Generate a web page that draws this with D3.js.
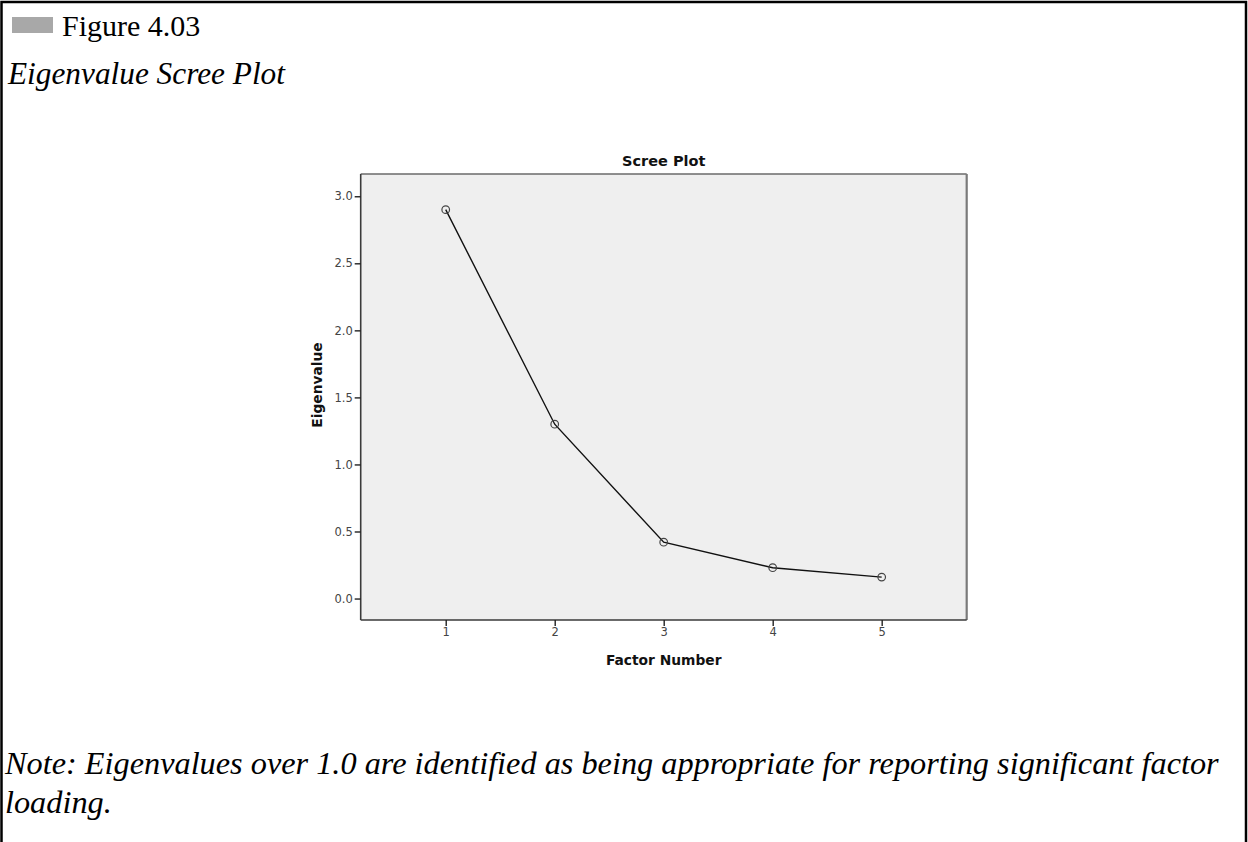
<!DOCTYPE html>
<html>
<head>
<meta charset="utf-8">
<script src="https://cdn.jsdelivr.net/npm/d3@7"></script>
<style>
  html, body { margin: 0; padding: 0; background: #fff; }
  svg { display: block; }
</style>
</head>
<body>
<script>
// ---- data ----
const factors = [1, 2, 3, 4, 5];
const eigenvalues = [2.90, 1.30, 0.42, 0.23, 0.16];
const yTicks = [0.0, 0.5, 1.0, 1.5, 2.0, 2.5, 3.0];
const xTicks = [1, 2, 3, 4, 5];
const figureLabel = "Figure 4.03";
const figureTitle = "Eigenvalue Scree Plot";
const chartTitle = "Scree Plot";
const xLabel = "Factor Number";
const yLabel = "Eigenvalue";
const noteLines = [
  "Note: Eigenvalues over 1.0 are identified as being appropriate for reporting significant factor",
  "loading."
];

const W = 1248, H = 842;
const svg = d3.select("body").append("svg").attr("width", W).attr("height", H);

// outer frame (no bottom edge)
svg.append("path")
  .attr("d", d3.line()([[1.5, H], [1.5, 2], [1246, 2], [1246, H]]))
  .attr("fill", "none").attr("stroke", "#000").attr("stroke-width", 2.5);

const serif = "Liberation Serif, Times New Roman, serif";
// caption header
svg.append("rect").attr("x", 12).attr("y", 17).attr("width", 41).attr("height", 16).attr("fill", "#a8a8a8");
svg.append("text").attr("x", 62).attr("y", 36)
  .attr("font-family", serif).attr("font-size", 30)
  .attr("fill", "#000").text(figureLabel);
svg.append("text").attr("x", 8).attr("y", 84)
  .attr("font-family", serif).attr("font-size", 31.3)
  .attr("font-style", "italic").attr("fill", "#000").text(figureTitle);

noteLines.forEach((t, i) => {
  svg.append("text").attr("x", 5).attr("y", 774 + i * 39)
    .attr("font-family", serif).attr("font-size", 32.3)
    .attr("font-style", "italic").attr("fill", "#000").text(t);
});

// plot area
const L = 360.7, R = 966.7, T = 174, B = 620;
const x = d3.scaleLinear().domain([0.22, 5.78]).range([L, R]);
const y = d3.scaleLinear().domain([-0.16, 3.166]).range([B, T]);

svg.append("rect").attr("x", L).attr("y", T).attr("width", R - L).attr("height", B - T)
  .attr("fill", "#efefef");
// top and right frame
svg.append("line").attr("x1", L).attr("x2", R).attr("y1", T).attr("y2", T)
  .attr("stroke", "#6a6a6a").attr("stroke-width", 1.5);
svg.append("line").attr("x1", R).attr("x2", R).attr("y1", T).attr("y2", B)
  .attr("stroke", "#7a7a7a").attr("stroke-width", 2.2);

const sans = "DejaVu Sans, Verdana, sans-serif";

// axes
const yAxis = d3.axisLeft(y).tickValues(yTicks).tickFormat(d3.format(".1f")).tickSize(6).tickPadding(2);
const gy = svg.append("g").attr("transform", `translate(${L},0)`).call(yAxis);
gy.select(".domain").attr("d", `M0,${T}V${B}`).attr("stroke", "#3a3a3a").attr("stroke-width", 1.6);
gy.selectAll(".tick line").attr("stroke", "#222").attr("stroke-width", 1.4);
gy.selectAll(".tick text").attr("font-family", sans).attr("font-size", 11.5).attr("fill", "#444");

const xAxis = d3.axisBottom(x).tickValues(xTicks).tickFormat(d3.format("d")).tickSize(6).tickPadding(2);
const gx = svg.append("g").attr("transform", `translate(0,${B})`).call(xAxis);
gx.select(".domain").attr("d", `M${L},0H${R}`).attr("stroke", "#3a3a3a").attr("stroke-width", 1.6);
gx.selectAll(".tick line").attr("stroke", "#222").attr("stroke-width", 1.4);
gx.selectAll(".tick text").attr("font-family", sans).attr("font-size", 11.5).attr("fill", "#444");

// titles
svg.append("text").attr("x", (L + R) / 2).attr("y", 166).attr("text-anchor", "middle")
  .attr("font-family", sans).attr("font-weight", "bold").attr("font-size", 14.5).attr("fill", "#111")
  .text(chartTitle);
svg.append("text").attr("x", (L + R) / 2).attr("y", 665).attr("text-anchor", "middle")
  .attr("font-family", sans).attr("font-weight", "bold").attr("font-size", 13.8).attr("fill", "#111")
  .text(xLabel);
svg.append("text").attr("transform", `translate(322,${(T + B) / 2 - 12}) rotate(-90)`).attr("text-anchor", "middle")
  .attr("font-family", sans).attr("font-weight", "bold").attr("font-size", 13.8).attr("fill", "#111")
  .text(yLabel);

// line + points
const pts = factors.map((f, i) => [f, eigenvalues[i]]);
svg.append("path").datum(pts)
  .attr("d", d3.line().x(d => x(d[0])).y(d => y(d[1])))
  .attr("fill", "none").attr("stroke", "#111").attr("stroke-width", 1.4);
svg.selectAll("circle.pt").data(pts).join("circle").attr("class", "pt")
  .attr("cx", d => x(d[0])).attr("cy", d => y(d[1])).attr("r", 3.8)
  .attr("fill", "none").attr("stroke", "#444").attr("stroke-width", 1.2);
</script>
</body>
</html>
